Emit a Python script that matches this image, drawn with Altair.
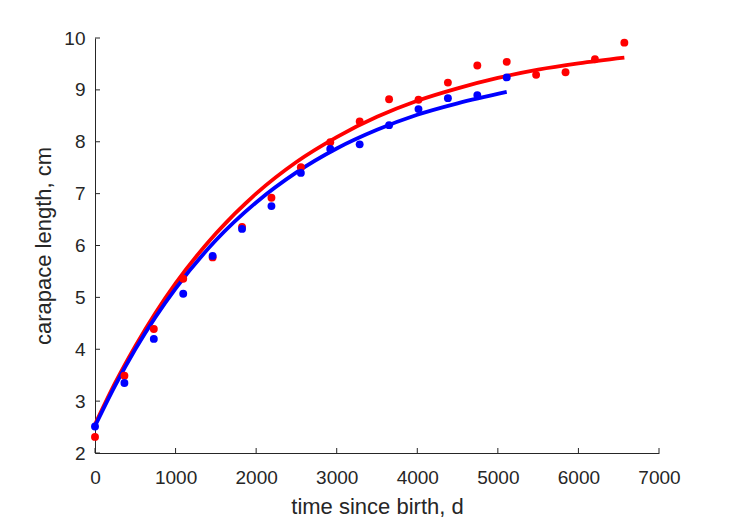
import altair as alt
import pandas as pd

# observed data (days since birth, carapace length cm)
red_t = [0, 365, 730, 1095, 1460, 1825, 2190, 2555, 2920, 3285, 3650, 4015,
         4380, 4745, 5110, 5475, 5840, 6205, 6570]
red_L = [2.31, 3.49, 4.39, 5.36, 5.77, 6.36, 6.92, 7.51, 7.99, 8.39, 8.82, 8.81,
         9.14, 9.47, 9.54, 9.29, 9.34, 9.59, 9.91]
blue_t = [0, 365, 730, 1095, 1460, 1825, 2190, 2555, 2920, 3285, 3650, 4015,
          4380, 4745, 5110]
blue_L = [2.51, 3.35, 4.20, 5.07, 5.80, 6.32, 6.76, 7.40, 7.86, 7.95, 8.32, 8.63,
          8.84, 8.90, 9.24]

# fitted curves
red_fit_t = [0, 250, 500, 750, 1000, 1500, 2000, 2500, 3000, 3500, 4000, 4500,
             5000, 5500, 6000, 6570]
red_fit_L = [2.55, 3.35, 4.06, 4.70, 5.27, 6.23, 7.00, 7.61, 8.09, 8.48, 8.79, 9.03,
             9.23, 9.39, 9.51, 9.62]
blue_fit_t = [0, 250, 500, 750, 1000, 1500, 2000, 2500, 3000, 3500, 4000, 4500, 5110]
blue_fit_L = [2.52, 3.30, 4.00, 4.62, 5.17, 6.10, 6.83, 7.41, 7.87, 8.23, 8.52, 8.74, 8.96]

x_ticks = [0, 1000, 2000, 3000, 4000, 5000, 6000, 7000]
y_ticks = [2, 3, 4, 5, 6, 7, 8, 9, 10]

W, H = 564, 415
FONT = "Liberation Sans"
TXT = "#262626"

xs = alt.Scale(domain=[0, 7000], nice=False, zero=False)
ys = alt.Scale(domain=[2, 10], nice=False, zero=False)

xaxis = alt.Axis(values=x_ticks, format="d", title="time since birth, d", grid=False,
                 tickSize=0, labelPadding=15, titlePadding=9, domainColor=TXT,
                 labelColor=TXT, titleColor=TXT, labelFontSize=19, titleFontSize=22,
                 labelFont=FONT, titleFont=FONT, titleFontWeight="normal", labelFlush=False)
yaxis = alt.Axis(values=y_ticks, format="d", title="carapace length, cm", grid=False,
                 tickSize=0, labelPadding=10, titlePadding=8, domainColor=TXT,
                 labelColor=TXT, titleColor=TXT, labelFontSize=19, titleFontSize=22,
                 labelFont=FONT, titleFont=FONT, titleFontWeight="normal", labelFlush=False)

red_pts = pd.DataFrame({"t": red_t, "L": red_L})
blue_pts = pd.DataFrame({"t": blue_t, "L": blue_L})
red_fit = pd.DataFrame({"t": red_fit_t, "L": red_fit_L})
blue_fit = pd.DataFrame({"t": blue_fit_t, "L": blue_fit_L})

base_x = alt.X("t:Q", scale=xs, axis=xaxis)
base_y = alt.Y("L:Q", scale=ys, axis=yaxis)

red_line = alt.Chart(red_fit).mark_line(color="#FF0000", strokeWidth=3.8, interpolate="monotone").encode(x=base_x, y=base_y)
blue_line = alt.Chart(blue_fit).mark_line(color="#0000FF", strokeWidth=3.8, interpolate="monotone").encode(x=base_x, y=base_y)
red_p = alt.Chart(red_pts).mark_circle(color="#FF0000", size=62, opacity=1).encode(x=base_x, y=base_y)
blue_p = alt.Chart(blue_pts).mark_circle(color="#0000FF", size=62, opacity=1).encode(x=base_x, y=base_y)

xt = alt.Chart(pd.DataFrame({"t": x_ticks})).mark_rule(color=TXT, strokeWidth=1).encode(
    x=alt.X("t:Q", scale=xs), y=alt.value(H), y2=alt.value(H - 5))
yt = alt.Chart(pd.DataFrame({"L": y_ticks})).mark_rule(color=TXT, strokeWidth=1).encode(
    y=alt.Y("L:Q", scale=ys), x=alt.value(0), x2=alt.value(5))

chart = alt.layer(red_line, blue_line, red_p, blue_p, xt, yt).properties(
    width=W, height=H,
    padding={"left": 95, "top": 38, "right": 70, "bottom": 68},
    autosize=alt.AutoSizeParams(type="none"),
    background="white",
).configure_view(stroke=None)

chart.save("out.html", embed_options={"renderer": "svg", "actions": False})
